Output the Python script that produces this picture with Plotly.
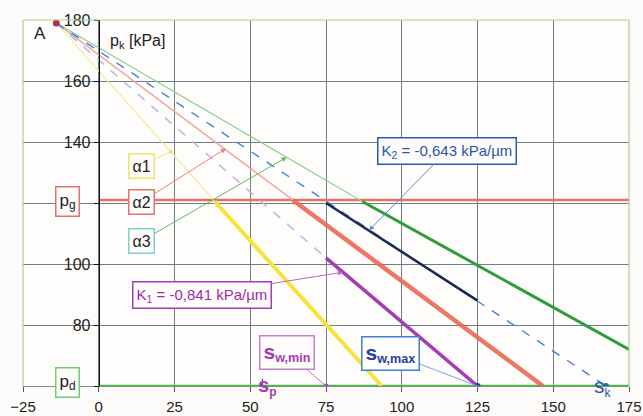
import plotly.graph_objects as go

# ---------------- data ----------------
A_x, A_y = -14, 179
p_g = 121
p_d = 60

yellow_x = [-14, 38.3, 93.4]
yellow_y = [179, 120.5, 60]
red_x = [-14, 64.0, 146.6]
red_y = [179, 121, 60]
green_x = [-14, 87.0, 175]
green_y = [179, 120.5, 72]
blue_x = [-14, 167.4]
blue_y = [179, 60]
lav_x = [-14, 75]
lav_y = [179, 102]
k2_x = [75, 125]
k2_y = [120, 88]
k1_x = [75, 125]
k1_y = [102, 60]

s_w_min = 75
s_w_max = 125
s_k = 167.4
s_p = 54

x_ticks = [-25, 0, 25, 50, 75, 100, 125, 150, 175]
y_ticks = [60, 80, 100, 120, 140, 160, 180]
y_ticktext = ["", "80", "100", "", "140", "160", "180"]

FONT = "Liberation Sans, Arial, sans-serif"

fig = go.Figure()

def seg(x, y, color, width, dash="solid", opacity=1.0):
    fig.add_trace(go.Scatter(x=x, y=y, mode="lines", opacity=opacity,
                             line=dict(color=color, width=width, dash=dash),
                             hoverinfo="skip", showlegend=False))

# horizontal reference lines p_g and p_d
seg([0, 175], [p_g, p_g], "#e9705f", 2.5)
seg([0, 175], [p_d, p_d], "#3cc43c", 2.5)

# thin lines from A
seg(yellow_x[:2], yellow_y[:2], "#f3ec9c", 1.2)
seg(red_x[:2], red_y[:2], "#f0aaa2", 1.5)
seg(green_x[:2], green_y[:2], "#92d092", 1.2)
seg(lav_x, lav_y, "#bdb8e0", 1.6, dash="dash")
seg(blue_x, blue_y, "#3f82dc", 1.4, dash="dash")

# thick parts
seg(yellow_x[1:], yellow_y[1:], "#f6e43c", 4)
seg(red_x[1:], red_y[1:], "#ea6a52", 4.5, opacity=0.9)
seg(green_x[1:], green_y[1:], "#2e9c3c", 3)
seg(k2_x, k2_y, "#1c2b4c", 2.5)
seg(k1_x, k1_y, "#a23db2", 3.5)

# markers
fig.add_trace(go.Scatter(x=[A_x], y=[A_y], mode="markers",
                         marker=dict(color="#b0304a", size=7), hoverinfo="skip", showlegend=False))
fig.add_trace(go.Scatter(x=[s_w_min], y=[p_d], mode="markers",
                         marker=dict(color="#a23db2", size=5), hoverinfo="skip", showlegend=False))
fig.add_trace(go.Scatter(x=[s_w_max], y=[p_d], mode="markers",
                         marker=dict(color="#3a3c9c", size=6), hoverinfo="skip", showlegend=False))
fig.add_trace(go.Scatter(x=[s_k], y=[p_d], mode="markers",
                         marker=dict(color="#2a5fc0", size=6), hoverinfo="skip", showlegend=False))

GRID = "#6e7e86"
fig.update_layout(
    width=643, height=416,
    margin=dict(l=23, r=14, t=20, b=30),
    paper_bgcolor="#fcfbf9", plot_bgcolor="#fefdfc",
    font=dict(family=FONT, size=15, color="#222"),
    showlegend=False,
    xaxis=dict(range=[-25, 175], tickvals=x_ticks, showgrid=True, gridcolor=GRID, gridwidth=1,
               zeroline=False, showline=True, linecolor="#8a8a8a", ticks="outside", ticklen=5,
               tickcolor="#555", tickfont=dict(size=15, color="#222"), ticklabelstandoff=2,
               automargin=False, fixedrange=True),
    yaxis=dict(range=[60, 180], tickvals=y_ticks, ticktext=y_ticktext, showgrid=True,
               gridcolor=GRID, gridwidth=1, zeroline=False, showline=True, linecolor="#111",
               linewidth=1.2, ticks="outside", ticklen=5, tickcolor="#111", automargin=False,
               anchor="free", position=0.125, tickfont=dict(size=16, color="#222"), fixedrange=True),
)

# plot border (light green) on top, left, right
for (x0, y0, x1, y1) in [(0, 1, 1, 1), (0, 0, 0, 1), (1, 0, 1, 1)]:
    fig.add_shape(type="line", xref="paper", yref="paper", x0=x0, y0=y0, x1=x1, y1=y1,
                  line=dict(color="#a9d08f", width=1.2))

# s_p tick
fig.add_shape(type="line", xref="x", yref="paper", x0=s_p, x1=s_p, y0=0, y1=0.02,
              line=dict(color="#333", width=1))

def box(text, x, y, color, border, size=15, **kw):
    fig.add_annotation(text=text, x=x, y=y, xref="x", yref="y", showarrow=False,
                       font=dict(color=color, size=size, family=FONT),
                       bordercolor=border, borderwidth=1.5, borderpad=3,
                       bgcolor="#fefdfc", **kw)

def arrow_box(text, px, py, tx, ty, color, border, linecolor, head=2, size=15, width=1):
    fig.add_annotation(text=text, x=px, y=py, ax=tx, ay=ty, xref="x", yref="y",
                       axref="x", ayref="y", showarrow=True, arrowhead=head, arrowsize=1,
                       arrowwidth=width, arrowcolor=linecolor,
                       font=dict(color=color, size=size, family=FONT),
                       bordercolor=border, borderwidth=1.5, borderpad=3, bgcolor="#fefdfc")

# plain labels
fig.add_annotation(text="A", x=-19.5, y=175.7, xref="x", yref="y", showarrow=False,
                   font=dict(size=17, color="#222"))
fig.add_annotation(text="p<sub>k</sub> [kPa]", x=3, y=172.8, xref="x", yref="y", showarrow=False,
                   xanchor="left", font=dict(size=16, color="#222"))

# p_g / p_d boxes
box("p<sub>g</sub>", -10.2, 120.4, "#222", "#d9776c", size=17)
box("p<sub>d</sub>", -10.2, 61.3, "#222", "#6fcf6f", size=17)

# alpha labels
arrow_box("α1", 23.8, 136.9, 14.0, 132.2, "#222", "#efe46a", "#efe46a", head=6, size=16)
arrow_box("α2", 42.0, 137.9, 14.0, 120.3, "#222", "#d9776c", "#e98074", head=2, size=16)
arrow_box("α3", 62.0, 135.0, 14.0, 107.5, "#222", "#7fd0d0", "#62b862", head=2, size=16)

# K labels
arrow_box("K<sub>2</sub> = -0,643 kPa/µm", 89.2, 111.0, 115.0, 137.2, "#2a55a8", "#2a5ab4",
          "#5b8ddc", head=2, size=15)
arrow_box("K<sub>1</sub> = -0,841 kPa/µm", 80.6, 97.3, 34.2, 90.0, "#9b2fa6", "#a23db2",
          "#b86ac0", head=2, size=15)

# s_w labels
arrow_box("<b><span style='font-size:21px'>s</span><sub>w,min</sub></b>", s_w_min, p_d, 62.2, 71.0,
          "#a23db2", "#c57fcf", "#b97ac6", head=0, size=18)
arrow_box("<b><span style='font-size:21px'>s</span><sub>w,max</sub></b>", s_w_max, p_d, 96.4, 70.8,
          "#2a3f9c", "#3f7fd8", "#7aa6e0", head=0, size=18)

# s_p and s_k labels below the axis
fig.add_annotation(text="<b><span style='font-size:20px'>s</span><sub>p</sub></b>", x=s_p + 1.5, y=-0.04,
                   xref="x", yref="paper", showarrow=False, font=dict(color="#a23db2", size=17))
fig.add_annotation(text="<span style='font-size:21px'>s</span><sub>k</sub>", x=s_k - 1, y=-0.045,
                   xref="x", yref="paper", showarrow=False, font=dict(color="#2a55a8", size=17))

fig.write_html("out.html")
